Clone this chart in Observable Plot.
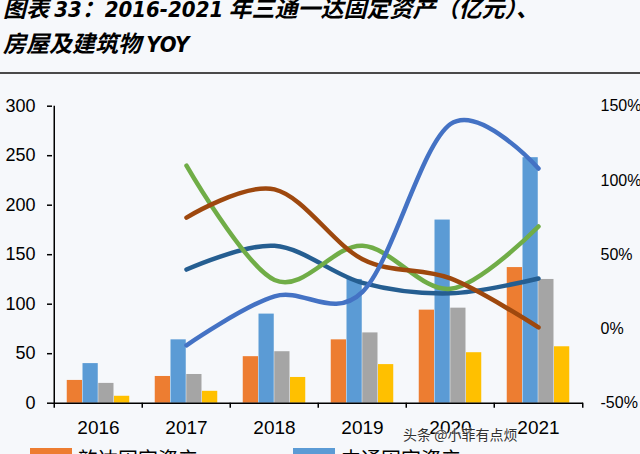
<!DOCTYPE html>
<html><head><meta charset="utf-8">
<script src="https://cdn.jsdelivr.net/npm/d3@7"></script>
<script src="https://cdn.jsdelivr.net/npm/@observablehq/plot@0.6"></script>
<style>
html,body{margin:0;padding:0;background:#f6f8fb;width:640px;height:454px;overflow:hidden;position:relative;}
#title{position:absolute;top:-9px;left:3px;font-family:"Noto Sans CJK SC","Noto Sans",sans-serif;font-weight:bold;font-style:italic;font-size:23px;line-height:33px;color:#000;white-space:nowrap;}
#title .n{font-family:"Liberation Sans Narrow","DejaVu Sans Condensed","Liberation Sans",sans-serif;font-stretch:condensed;font-size:22px;}
#sep{position:absolute;top:72px;left:0;width:640px;height:2px;background:#4a4a4a;}
#chart{position:absolute;top:76px;left:0;}
#legend{position:absolute;top:447px;left:30px;font-family:"Noto Sans CJK SC",sans-serif;font-size:20px;line-height:24px;color:#000;display:grid;grid-template-columns:263px 263px;}
#legend .it{display:flex;align-items:flex-start;height:24px;}
#legend .sw{width:42px;height:14px;margin-right:6px;margin-top:1px;}
#wm{position:absolute;left:403px;top:424px;font-family:"Noto Sans CJK SC",sans-serif;font-size:14px;color:#333;text-shadow:0 0 2px #fff,0 0 2px #fff;}
</style></head>
<body>
<div id="title">图表 <span class="n">33</span>：<span class="n">2016-2021</span> 年三通一达固定资产（亿元）、<br>房屋及建筑物 <span class="n">YOY</span></div>
<div id="sep"></div>
<div id="chart"></div>
<div id="legend"></div>
<div id="wm">头条 @小菲有点烦</div>
<script>
// ---- data ----
const years = ["2016","2017","2018","2019","2020","2021"];
const barSeries = ["韵达固定资产","中通固定资产","圆通固定资产","申通固定资产"];
const yundaAssets = [23, 27, 47, 64, 94, 137];
const ztoAssets   = [40, 64, 90, 125, 185, 248];
const ytoAssets   = [20, 29, 52, 71, 96, 125];
const stoAssets   = [7, 12, 26, 39, 51, 57];
const barColors = ["#ED7D31","#5B9BD5","#A5A5A5","#FFC000"];

const lineYears = ["2017","2018","2019","2020","2021"];
const lineSeries = ["中通房屋及建筑物YOY","圆通房屋及建筑物YOY","申通房屋及建筑物YOY","韵达房屋及建筑物YOY"];
const ztoYoy   = [-0.11, 0.22, 0.25, 1.38, 1.08];
const ytoYoy   = [1.10, 0.33, 0.56, 0.27, 0.69];
const stoYoy   = [0.40, 0.56, 0.31, 0.24, 0.34];
const yundaYoy = [0.75, 0.94, 0.47, 0.34, 0.01];
const lineColors = ["#4472C4","#70AD47","#255E91","#9E480E"];

const leftTicks = [0, 50, 100, 150, 200, 250, 300];
const rightTicks = [-0.5, 0, 0.5, 1, 1.5];
const visibleLegend = ["韵达固定资产","中通固定资产"];

// ---- layout ----
const W = 640, H = 370, mL = 52, mR = 57, mT = 29.7, mB = 43.3;
const bw = (W - mL - mR) / years.length;
const barW = 15.75;
const inset = (bw - barW) / 2;

// map right-axis percent to left-axis units
const toLeft = p => (p + 0.5) * 150;
const fromLeft = v => v / 150 - 0.5;

const barArrays = [yundaAssets, ztoAssets, ytoAssets, stoAssets];
const barRows = barSeries.map((s, k) => years.map((y, i) => ({year: y, series: s, value: barArrays[k][i]})));
const lineArr = [ztoYoy, ytoYoy, stoYoy, yundaYoy];
const lineRows = lineSeries.map((s, k) => lineYears.map((y, i) => ({year: y, series: s, value: lineArr[k][i]})));

const offsets = [-1.5, -0.5, 0.5, 1.5];
const marks = [];
barRows.forEach((rows, k) => {
  marks.push(Plot.barY(rows, {x: "year", y: "value", fill: barColors[k], insetLeft: inset, insetRight: inset, dx: offsets[k] * barW}));
});
// draw lines: dark blue, green, brown, blue (top)
[2, 1, 3, 0].forEach(k => {
  marks.push(Plot.line(lineRows[k], {x: "year", y: d => toLeft(d.value), stroke: lineColors[k], strokeWidth: 4.5, curve: "cardinal", strokeLinecap: "round", strokeLinejoin: "round"}));
});
// axes
marks.push(Plot.ruleY([0], {stroke: "#000", strokeWidth: 1.5}));
marks.push(Plot.ruleX([years[0]], {dx: -bw / 2, stroke: "#000", strokeWidth: 1.5, insetBottom: -5}));
marks.push(Plot.ruleX(years.slice(1), {dx: -bw / 2, stroke: "#000", strokeWidth: 1.5, insetTop: H - mT - mB, insetBottom: -5}));
marks.push(Plot.ruleX([years[years.length - 1]], {dx: bw / 2, stroke: "#000", strokeWidth: 1.5, insetTop: H - mT - mB, insetBottom: -5}));
marks.push(Plot.axisY({anchor: "left", label: null, ticks: leftTicks, tickSize: 5, tickPadding: 12, fontSize: 18, stroke: "#000", strokeWidth: 1.5, fill: "#000"}));
marks.push(Plot.axisY({anchor: "right", label: null, ticks: rightTicks.map(toLeft), tickFormat: v => d3.format(".0%")(fromLeft(v)).replace("−", "-"), tickSize: 0, tickPadding: 17, fontSize: 16, fill: "#000", textAnchor: "start"}));
marks.push(Plot.axisX({anchor: "bottom", label: null, tickSize: 0, tickPadding: 17, fontSize: 19, fill: "#000"}));

const chart = Plot.plot({
  width: W, height: H,
  marginLeft: mL, marginRight: mR, marginTop: mT, marginBottom: mB,
  style: {background: "transparent", fontFamily: "'Liberation Sans', Arial, sans-serif", color: "#000"},
  x: {type: "band", domain: years, padding: 0, axis: null, label: null},
  y: {domain: [0, 300], axis: null, label: null},
  marks
});
document.getElementById("chart").appendChild(chart);

// legend (only the first row is inside the picture)
const legend = document.getElementById("legend");
visibleLegend.forEach(s => {
  const c = barColors[barSeries.indexOf(s)];
  const it = document.createElement("div"); it.className = "it";
  const sw = document.createElement("div"); sw.className = "sw"; sw.style.background = c;
  const t = document.createElement("span"); t.textContent = s;
  it.appendChild(sw); it.appendChild(t); legend.appendChild(it);
});
</script>
</body></html>
